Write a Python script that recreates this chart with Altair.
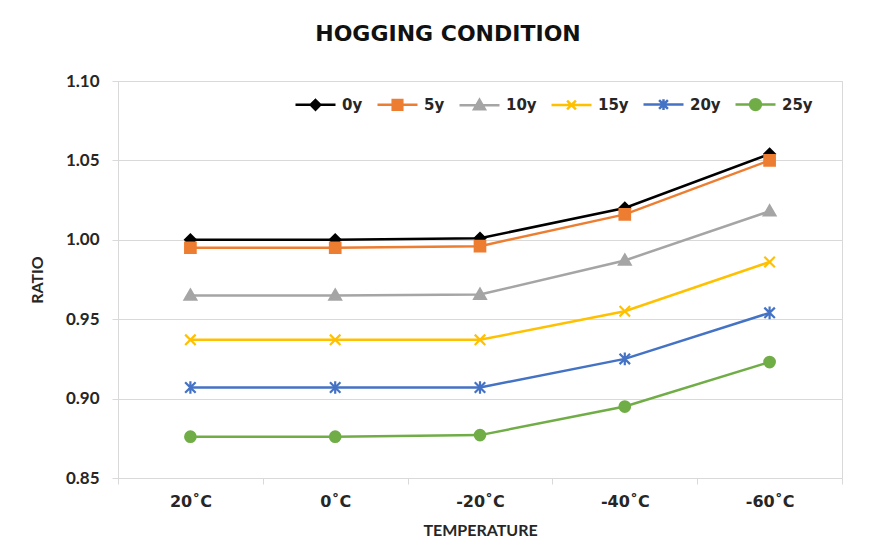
import altair as alt
import pandas as pd

temps = ["20˚C", "0˚C", "-20˚C", "-40˚C", "-60˚C"]
series = ["0y", "5y", "10y", "15y", "20y", "25y"]
v0 = [1.000, 1.000, 1.001, 1.020, 1.054]
v5 = [0.995, 0.995, 0.996, 1.016, 1.050]
v10 = [0.965, 0.965, 0.9655, 0.987, 1.018]
v15 = [0.937, 0.937, 0.937, 0.955, 0.986]
v20 = [0.907, 0.907, 0.907, 0.925, 0.954]
v25 = [0.876, 0.876, 0.877, 0.895, 0.923]
colors = ["#000000", "#ED7D31", "#A5A5A5", "#FFC000", "#4472C4", "#70AD47"]

rows = []
for s, vals in zip(series, [v0, v5, v10, v15, v20, v25]):
    for t, v in zip(temps, vals):
        rows.append({"temp": t, "series": s, "ratio": v})
df = pd.DataFrame(rows)

marker_paths = [
    "M0,-1L1,0L0,1L-1,0Z",
    "M-1,-1L1,-1L1,1L-1,1Z",
    "M0,-1.1L1.1,0.8L-1.1,0.8Z",
    "M-1,-1L1,1M-1,1L1,-1",
    "M-1,-1L1,1M-1,1L1,-1M0,-1.2L0,1.2",
    "M-1,0A1,1 0 1,0 1,0A1,1 0 1,0 -1,0Z",
]
legend_paths = [
    "M-1,0L1,0M0,-0.24L0.24,0L0,0.24L-0.24,0Z",
    "M-1,0L1,0M-0.24,-0.24L0.24,-0.24L0.24,0.24L-0.24,0.24Z",
    "M-1,0L1,0M0,-0.27L0.27,0.2L-0.27,0.2Z",
    "M-1,0L1,0M-0.22,-0.22L0.22,0.22M-0.22,0.22L0.22,-0.22",
    "M-1,0L1,0M-0.22,-0.22L0.22,0.22M-0.22,0.22L0.22,-0.22M0,-0.27L0,0.27",
    "M-1,0L1,0M-0.27,0A0.27,0.27 0 1,0 0.27,0A0.27,0.27 0 1,0 -0.27,0Z",
]

FONT = "Lato"
TXT = "#262626"
GRID = "#D9D9D9"

x_enc = alt.X(
    "temp:N",
    sort=temps,
    bandPosition=0.5,
    scale=alt.Scale(type="band", domain=temps, paddingInner=0, paddingOuter=0),
    axis=alt.Axis(
        title="TEMPERATURE",
        tickBand="extent",
        labelAngle=0,
        labelFont="DejaVu Sans",
        labelFontWeight="bold",
        labelFontSize=16,
        labelColor=TXT,
        labelPadding=9,
        titleFont=FONT,
        titleFontWeight="bold",
        titleFontSize=16,
        titleColor=TXT,
        titlePadding=13,
        tickSize=6,
        gridColor=GRID,
        domainColor=GRID,
        tickColor=GRID,
    ),
)
y_enc = alt.Y(
    "ratio:Q",
    scale=alt.Scale(domain=[0.85, 1.10], nice=False, zero=False),
    axis=alt.Axis(
        title="RATIO",
        values=[0.85, 0.90, 0.95, 1.00, 1.05, 1.10],
        format=".2f",
        tickSize=6,
        labelPadding=13,
        labelFont=FONT,
        labelFontWeight="bold",
        labelFontSize=17,
        labelColor=TXT,
        titleFont=FONT,
        titleFontWeight="bold",
        titleFontSize=16,
        titleColor=TXT,
        titlePadding=20,
        gridColor=GRID,
        domainColor=GRID,
        tickColor=GRID,
    ),
)
color_enc = alt.Color("series:N", scale=alt.Scale(domain=series, range=colors), legend=None)

lines = alt.Chart(df).mark_line(strokeWidth=2.5).encode(x=x_enc, y=y_enc, color=color_enc)
points = alt.Chart(df).mark_point(filled=True, size=110, strokeWidth=2.2, opacity=1).encode(
    x=x_enc,
    y=y_enc,
    fill=alt.Fill("series:N", scale=alt.Scale(domain=series, range=colors), legend=None),
    stroke=alt.Stroke("series:N", scale=alt.Scale(domain=series, range=colors), legend=None),
    shape=alt.Shape("series:N", scale=alt.Scale(domain=series, range=marker_paths), legend=None),
)

leg = alt.Legend(
    title=None,
    orient="none",
    direction="horizontal",
    legendX=176,
    legendY=2,
    symbolSize=1600,
    symbolStrokeWidth=2.5,
    labelFontSize=15,
    labelFont="DejaVu Sans",
    labelFontWeight="bold",
    labelColor=TXT,
    labelOffset=5,
    columnPadding=9,
)
legend_layer = alt.Chart(df).transform_filter("false").mark_point(filled=True, opacity=1).encode(
    shape=alt.Shape("series:N", scale=alt.Scale(domain=series, range=legend_paths), legend=leg),
    fill=alt.Fill("series:N", scale=alt.Scale(domain=series, range=colors), legend=leg),
    stroke=alt.Stroke("series:N", scale=alt.Scale(domain=series, range=colors), legend=leg),
)

chart = (
    alt.layer(lines, points, legend_layer)
    .resolve_scale(shape="independent", fill="independent", stroke="independent")
    .properties(
        width=724,
        height=397,
        autosize=alt.AutoSizeParams(type="none"),
        padding={"left": 118, "top": 81, "right": 44, "bottom": 80},
        background="white",
        title=alt.TitleParams(
            "HOGGING  CONDITION",
            anchor="middle",
            dx=-32,
            offset=26,
            fontSize=22,
            font="DejaVu Sans",
            fontWeight="bold",
            color="#111111",
        ),
    )
    .configure_view(stroke=GRID, strokeWidth=1)
)

chart.save("out.html", embed_options={"renderer": "svg", "actions": False})
